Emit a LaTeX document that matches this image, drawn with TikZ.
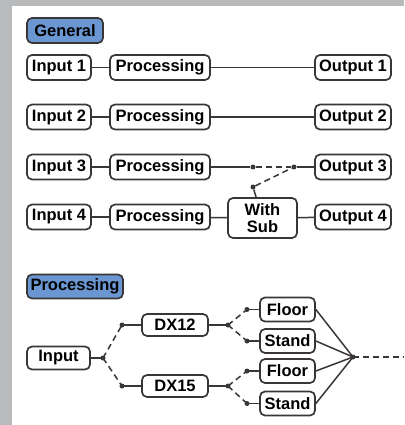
\documentclass[tikz,border=0pt]{standalone}
\usepackage{fontspec}
\setmainfont{Liberation Sans}
\definecolor{edge}{HTML}{3A3636}
\definecolor{tagblue}{HTML}{6A96D2}
\definecolor{frame}{HTML}{B9BABC}
\tikzset{
  box/.style={draw=edge,line width=1.7pt,rounded corners=5pt,fill=white,inner sep=0pt,
    minimum height=25pt,font=\fontsize{16.5}{17}\selectfont\bfseries,align=center},
  tag/.style={box,fill=tagblue},
  wire/.style={draw=edge,line width=1.5pt},
  dwire/.style={wire,dash pattern=on 6pt off 4pt},
  jdot/.style={circle,fill=edge,inner sep=0pt,minimum size=5pt},
}
\begin{document}
\begin{tikzpicture}[x=1pt,y=-1pt]
\fill[frame] (0,0) rectangle (404,425);
\fill[white] (12,6) rectangle (404,425);
\useasboundingbox (0,0) rectangle (404,425);
% general
\node[tag,minimum width=76pt] (gen) at (65,30.5) {General};
\foreach \k/\y in {1/67.5,2/117,3/167,4/217}{
  \node[box,minimum width=64pt] (in\k) at (59,\y) {Input \k};
  \node[box,minimum width=100pt] (pr\k) at (160,\y) {Processing};
  \node[box,minimum width=76pt] (out\k) at (353,\y) {Output \k};
}
\node[box,minimum width=69pt,minimum height=40pt,font=\fontsize{16.5}{17.5}\selectfont\bfseries] (sub) at (262.5,218) {With\\Sub};
\foreach \k in {1,2,3,4}{\draw[wire] (in\k) -- (pr\k);}
\draw[wire] (pr1) -- (out1);
\draw[wire] (pr2) -- (out2);
\node[jdot] (s1) at (253,167) {};
\node[jdot] (s2) at (294,167) {};
\node[jdot] (s3) at (253,187) {};
\draw[wire] (pr3) -- (s1);
\draw[dwire] (s1) -- (s2);
\draw[wire] (s2) -- (out3);
\draw[dwire] (s3) -- (s2);
\draw[wire] (s3) -- (sub);
\draw[wire] (pr4) -- (sub);
\draw[wire] (sub) -- (out4);
% processing
\node[tag,minimum width=96pt,minimum height=24pt] (proc) at (75,286.5) {Processing};
\node[box,minimum width=63pt,minimum height=23pt] (inp) at (58.5,358) {Input};
\node[box,minimum width=66pt,minimum height=22pt] (dxa) at (175,325) {DX12};
\node[box,minimum width=66pt,minimum height=22pt] (dxb) at (175,386) {DX15};
\node[box,minimum width=55pt,minimum height=24pt] (fla) at (287.5,309.5) {Floor};
\node[box,minimum width=55pt,minimum height=24pt] (sta) at (287.5,341) {Stand};
\node[box,minimum width=55pt,minimum height=24pt] (flb) at (287.5,371) {Floor};
\node[box,minimum width=55pt,minimum height=24pt] (stb) at (287.5,403.5) {Stand};
\node[jdot] (j0) at (103,358) {};
\node[jdot] (j1) at (122,325) {};
\node[jdot] (j2) at (122,386) {};
\node[jdot] (ja) at (228,325) {};
\node[jdot] (ja1) at (247,309.5) {};
\node[jdot] (ja2) at (247,341) {};
\node[jdot] (jb) at (228,386) {};
\node[jdot] (jb1) at (247,371) {};
\node[jdot] (jb2) at (247,403.5) {};
\node[jdot] (hub) at (353,357) {};
\coordinate (tail) at (404,357);
\draw[wire] (inp) -- (j0.center);
\draw[dwire] (j0.center) -- (j1.center);
\draw[dwire] (j0.center) -- (j2.center);
\draw[wire] (j1.center) -- (dxa);
\draw[wire] (j2.center) -- (dxb);
\draw[wire] (dxa) -- (ja.center);
\draw[wire] (dxb) -- (jb.center);
\draw[dwire] (ja.center) -- (ja1.center);
\draw[dwire] (ja.center) -- (ja2.center);
\draw[dwire] (jb.center) -- (jb1.center);
\draw[dwire] (jb.center) -- (jb2.center);
\draw[wire] (ja1.center) -- (fla);
\draw[wire] (ja2.center) -- (sta);
\draw[wire] (jb1.center) -- (flb);
\draw[wire] (jb2.center) -- (stb);
\draw[wire] (fla.east) -- (hub.center);
\draw[wire] (sta.east) -- (hub.center);
\draw[wire] (flb.east) -- (hub.center);
\draw[wire] (stb.east) -- (hub.center);
\draw[dwire] (hub.center) -- (tail);
\end{tikzpicture}
\end{document}
